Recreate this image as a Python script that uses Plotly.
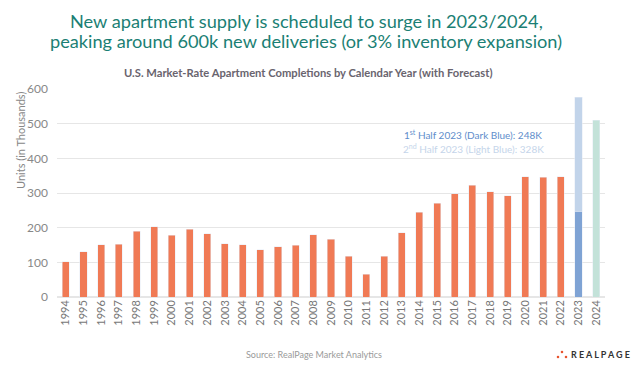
import plotly.graph_objects as go

years = [str(y) for y in range(1994, 2023)]
completions = [101, 131, 151, 152, 190, 203, 178, 196, 183, 154, 151, 136, 145, 149, 180,
               167, 118, 65, 117, 186, 244, 270, 298, 323, 303, 292, 347, 345, 347]
year_2023 = ["2023"]
h1_2023 = [248]
h2_2023 = [328]
year_2024 = ["2024"]
forecast_2024 = [510]
all_years = years + year_2023 + year_2024
y_ticks = [0, 100, 200, 300, 400, 500, 600]

FONT = "Lato, Open Sans, sans-serif"
fig = go.Figure()
fig.add_bar(x=years, y=completions, marker_color="#F07A55", name="Completions")
fig.add_bar(x=year_2023, y=h1_2023, marker_color="#7FA3D4", name="1st Half 2023")
fig.add_bar(x=year_2023, y=h2_2023, marker_color="#C2D4EA", name="2nd Half 2023")
fig.add_bar(x=year_2024, y=forecast_2024, marker_color="#C3E2D9", name="2024")

fig.update_layout(
    barmode="stack",
    bargap=0.6,
    width=640, height=370,
    margin=dict(l=57, r=35, t=89, b=73),
    paper_bgcolor="white", plot_bgcolor="white",
    showlegend=False,
    font=dict(family=FONT, color="#888888"),
)
fig.update_xaxes(
    type="category", categoryorder="array", categoryarray=all_years,
    tickangle=-90, tickfont=dict(size=11, color="#777777"),
    showgrid=False, showline=False, ticks="",
)
fig.update_yaxes(
    range=[0, 600], tickvals=y_ticks, showgrid=True, gridcolor="#E6E6E6", gridwidth=1,
    zeroline=True, zerolinecolor="#E6E6E6", tickfont=dict(size=12, color="#888888"),
    ticklabelstandoff=8,
)

def px_x(px):
    return (px - 57) / 548

def px_y(py):
    return (297 - py) / 208

title_lines = [
    ("New apartment supply is scheduled to surge in 2023/2024,", 21),
    ("peaking around 600k new deliveries (or 3% inventory expansion)", 41),
]
for txt, yy in title_lines:
    fig.add_annotation(
        text=txt, xref="paper", yref="paper", x=px_x(306), y=px_y(yy),
        xanchor="center", yanchor="middle", showarrow=False,
        font=dict(family=FONT, size=18.2, color="#1B7F74"),
    )

fig.add_annotation(
    text="<b>U.S. Market-Rate Apartment Completions by Calendar Year (with Forecast)</b>",
    xref="paper", yref="paper", x=px_x(308), y=px_y(72),
    xanchor="center", yanchor="middle", showarrow=False,
    font=dict(family=FONT, size=11.2, color="#69646E"),
)
fig.add_annotation(
    text="Units (in Thousands)", textangle=-90,
    xref="paper", yref="paper", x=px_x(20), y=0.75,
    xanchor="center", yanchor="middle", showarrow=False,
    font=dict(family=FONT, size=11, color="#888888"),
)
fig.add_annotation(
    text="1<sup>st</sup> Half 2023 (Dark Blue): 248K",
    xref="paper", yref="paper", x=px_x(473), y=px_y(134),
    xanchor="center", yanchor="middle", showarrow=False,
    font=dict(family=FONT, size=10, color="#5E8DCB"),
)
fig.add_annotation(
    text="2<sup>nd</sup> Half 2023 (Light Blue): 328K",
    xref="paper", yref="paper", x=px_x(473), y=px_y(148),
    xanchor="center", yanchor="middle", showarrow=False,
    font=dict(family=FONT, size=10, color="#C5D5EA"),
)
fig.add_annotation(
    text="Source: RealPage Market Analytics",
    xref="paper", yref="paper", x=px_x(314), y=px_y(354),
    xanchor="center", yanchor="middle", showarrow=False,
    font=dict(family=FONT, size=9, color="#9A9A9A"),
)
fig.add_annotation(
    text="<b>R E A L P A G E</b>",
    xref="paper", yref="paper", x=px_x(600), y=px_y(354),
    xanchor="center", yanchor="middle", showarrow=False,
    font=dict(family=FONT, size=9, color="#333333"),
)
for cx, cy in [(558, 357), (562, 352), (566, 357)]:
    fig.add_shape(type="circle", xref="paper", yref="paper",
                  x0=px_x(cx - 1.3), x1=px_x(cx + 1.3),
                  y0=px_y(cy + 1.3), y1=px_y(cy - 1.3),
                  fillcolor="#E8552F", line_width=0)

fig.write_html("out.html", config={"displayModeBar": False},
               post_script="document.body.style.margin='0';")
